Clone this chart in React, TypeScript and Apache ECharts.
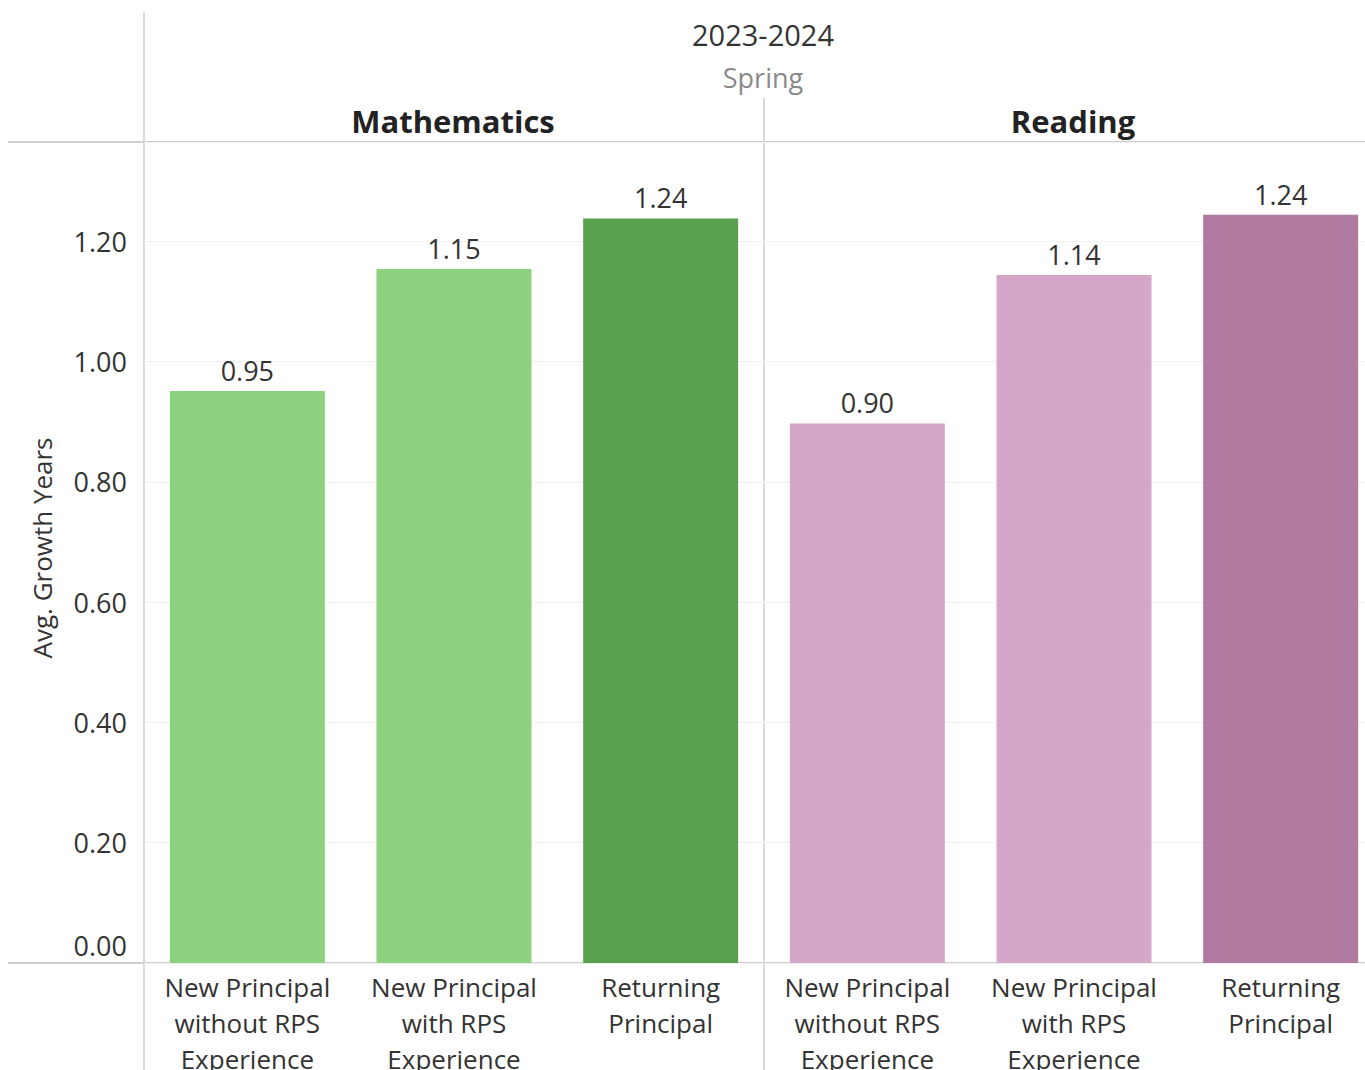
import React, { useEffect, useRef } from "react";
import * as echarts from "echarts";

const categories = [
  "New Principal\nwithout RPS\nExperience",
  "New Principal\nwith RPS\nExperience",
  "Returning\nPrincipal",
];
const mathValues = [0.951, 1.154, 1.238];
const readingValues = [0.897, 1.144, 1.244];
const mathColors = ["#8cd17d", "#8cd17d", "#59a14f"];
const readingColors = ["#d4a6c8", "#d4a6c8", "#b07aa1"];
const yearLabel = "2023-2024";
const seasonLabel = "Spring";
const panelTitles = ["Mathematics", "Reading"];
const yAxisTitle = "Avg. Growth Years";

const FONT = "Open Sans";
const LINE = "#cfcfcf";

export default function App() {
  const ref = useRef<HTMLDivElement>(null);
  useEffect(() => {
    if (!ref.current) return;
    const chart = echarts.init(ref.current, null, { renderer: "svg" });
    const xAxisCommon = {
      type: "category" as const,
      data: categories,
      axisLine: { show: false },
      axisTick: { show: false },
      axisLabel: {
        interval: 0,
        fontFamily: FONT,
        fontSize: 26,
        lineHeight: 36,
        color: "#333",
        margin: 6,
      },
    };
    const yAxisCommon = {
      type: "value" as const,
      min: 0,
      max: 1.365,
      interval: 0.2,
      axisLine: { show: false },
      axisTick: { show: false },
      splitLine: { lineStyle: { color: "#f0f0f0", width: 1 } },
    };
    const barLabel = {
      show: true,
      position: "top" as const,
      distance: 7,
      fontFamily: FONT,
      fontSize: 27,
      color: "#333",
      formatter: (p: any) => Number(p.value).toFixed(2),
    };
    chart.setOption({
      animation: false,
      grid: [
        { left: 144, top: 142, width: 620, height: 821, outerBoundsMode: "none", containLabel: false },
        { left: 764, top: 142, width: 620, height: 821, outerBoundsMode: "none", containLabel: false },
      ],
      xAxis: [
        { ...xAxisCommon, gridIndex: 0 },
        { ...xAxisCommon, gridIndex: 1 },
      ],
      yAxis: [
        {
          ...yAxisCommon,
          gridIndex: 0,
          axisLabel: {
            showMaxLabel: false,
            fontFamily: FONT,
            fontSize: 27,
            color: "#333",
            margin: 17,
            formatter: (v: number) =>
              Math.abs(v) < 1e-9 ? "{z|0.00}" : v.toFixed(2),
            rich: {
              z: {
                fontFamily: FONT,
                fontSize: 27,
                color: "#333",
                padding: [0, 0, 36, 0],
              },
            },
          },
        },
        { ...yAxisCommon, gridIndex: 1, axisLabel: { show: false } },
      ],
      series: [
        {
          type: "bar",
          xAxisIndex: 0,
          yAxisIndex: 0,
          barWidth: "75%",
          data: mathValues.map((v, i) => ({
            value: v,
            itemStyle: { color: mathColors[i] },
          })),
          label: barLabel,
        },
        {
          type: "bar",
          xAxisIndex: 1,
          yAxisIndex: 1,
          barWidth: "75%",
          data: readingValues.map((v, i) => ({
            value: v,
            itemStyle: { color: readingColors[i] },
          })),
          label: barLabel,
        },
      ],
      graphic: [
        { type: "line", shape: { x1: 144, y1: 12, x2: 144, y2: 1070 }, style: { stroke: LINE, lineWidth: 1.5 } },
        { type: "line", shape: { x1: 764, y1: 98, x2: 764, y2: 1070 }, style: { stroke: LINE, lineWidth: 1.5 } },
        { type: "line", shape: { x1: 8, y1: 142, x2: 1365, y2: 142 }, style: { stroke: LINE, lineWidth: 2 } },
        { type: "line", shape: { x1: 8, y1: 963, x2: 1365, y2: 963 }, style: { stroke: LINE, lineWidth: 2 } },
        {
          type: "text",
          x: 763,
          y: 34,
          style: { text: yearLabel, font: `29px "${FONT}"`, fill: "#333", textAlign: "center", textVerticalAlign: "middle" },
        },
        {
          type: "text",
          x: 763,
          y: 77,
          style: { text: seasonLabel, font: `27px "${FONT}"`, fill: "#8a8a8a", textAlign: "center", textVerticalAlign: "middle" },
        },
        {
          type: "text",
          x: 453,
          y: 121,
          style: { text: panelTitles[0], font: `bold 31px "${FONT}"`, fill: "#222", textAlign: "center", textVerticalAlign: "middle" },
        },
        {
          type: "text",
          x: 1073,
          y: 121,
          style: { text: panelTitles[1], font: `bold 31px "${FONT}"`, fill: "#222", textAlign: "center", textVerticalAlign: "middle" },
        },
        {
          type: "text",
          x: 42,
          y: 548,
          rotation: Math.PI / 2,
          style: { text: yAxisTitle, font: `26px "${FONT}"`, fill: "#333", textAlign: "center", textVerticalAlign: "middle" },
        },
      ],
    });
    return () => chart.dispose();
  }, []);
  return (
    <div
      ref={ref}
      style={{ position: "absolute", left: 0, top: 0, width: 1365, height: 1070 }}
    />
  );
}
